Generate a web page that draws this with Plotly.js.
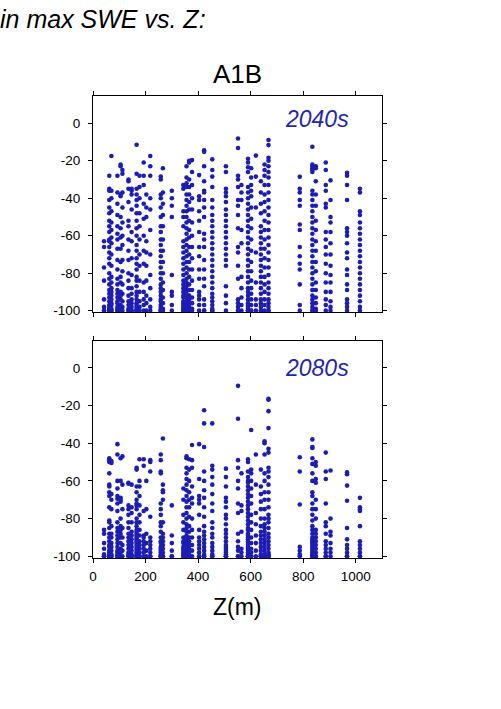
<!DOCTYPE html>
<html>
<head>
<meta charset="utf-8">
<script src="https://cdn.plot.ly/plotly-3.0.1.min.js"></script>
<style>html,body{margin:0;padding:0;background:#fff;}#chart{width:501px;height:709px;}</style>
</head>
<body>
<div id="chart"></div>
<script>
// Station elevations Z (m)
const stationZ = [42, 62, 70, 93, 105, 112, 135, 147, 166, 177, 193, 203, 218, 258, 266, 300, 344, 356, 366, 377, 404, 423, 454, 506, 552, 565, 590, 602, 620, 639, 653, 668, 787, 835, 848, 886, 904, 967, 1016];

// % change in max SWE, 2040s (one list per station)
const change2040 = [
  [-63,-66,-77,-84,-94,-100,-100,-98],
  [-28,-35,-36,-41,-45,-48,-52,-55,-58,-62,-63,-66,-69,-72,-75,-80,-83,-86,-89,-91,-93,-95,-97,-98,-99,-100,-100,-100],
  [-17.5,-36,-40,-47,-53,-57,-61,-64,-70,-76,-82,-85,-88,-90,-92,-94,-96,-97,-99,-100,-100],
  [-28,-37,-43,-49,-55,-59,-62,-67,-73,-78,-83,-86,-89,-91,-93,-95,-96,-98,-99,-100,-100],
  [-22,-23,-38,-39,-50,-56,-61,-67,-74,-82,-85,-90,-92,-94,-97,-99,-100,-100],
  [-25,-27,-37,-45,-53,-60,-65,-73,-79,-86,-91,-95,-98,-100],
  [-30,-31,-35,-42,-52,-55,-62,-68,-73,-80,-84,-88,-92,-95,-97,-99,-100,-100],
  [-35,-36,-38,-46,-58,-63,-72,-81,-88,-91,-94,-96,-98,-100,-100],
  [-11.5,-27,-35,-38,-41,-44,-48,-52,-56,-60,-65,-68,-72,-75,-78,-82,-84,-87,-90,-92,-94,-96,-97,-98,-99,-100,-100,-100],
  [-28,-34,-40,-48,-55,-62,-70,-76,-84,-90,-95,-98,-100],
  [-21,-28,-33,-43,-51,-60,-68,-75,-85,-90,-94,-97,-100],
  [-38,-45,-50,-63,-69,-76,-84,-92,-96,-100],
  [-17.5,-23,-28,-40,-46,-57,-70,-81,-88,-94,-98,-100],
  [-28.5,-30,-38,-40,-45,-50,-55,-58,-62,-65,-68,-71,-74,-77,-80,-83,-86,-88,-90,-92,-94,-95,-97,-98,-99,-100,-100,-100],
  [-24,-37,-43,-49,-55,-62,-68,-74,-80,-85,-89,-93,-96,-99,-100],
  [-36,-40,-44,-50,-81,-90,-92,-97,-100],
  [-33,-35,-47,-50,-55,-63,-66,-69,-72,-75,-78,-81,-84,-86,-88,-90,-92,-93,-95,-96,-97,-98,-99,-100,-100,-100],
  [-23,-29,-32,-34,-38,-41,-44,-47,-50,-53,-56,-59,-62,-65,-68,-71,-74,-77,-80,-83,-85,-87,-89,-91,-93,-95,-96,-98,-99,-100,-100,-100],
  [-20,-21,-30,-34,-38,-42,-46,-52,-57,-61,-66,-70,-74,-78,-82,-86,-89,-92,-94,-96,-98,-100,-100],
  [-19.7,-26,-33,-40,-46,-53,-60,-66,-72,-78,-84,-89,-93,-96,-99,-100],
  [-27.7,-39,-41,-47,-52,-58,-66,-71,-78,-83,-90,-92,-94,-97,-100],
  [-14.4,-15.3,-23,-31,-36,-37,-41,-45,-50,-59,-62,-66,-73,-78,-83,-87,-94,-97,-100,-100],
  [-19.3,-25,-28.5,-34,-41,-45,-49,-52,-55,-58,-61,-64,-67,-70,-73,-76,-79,-82,-85,-88,-91,-93,-95,-97,-99,-100,-100],
  [-23,-26,-35,-37,-39,-42,-46,-49,-52,-55,-58,-61,-64,-67,-70,-73,-76,-87,-92,-96,-100],
  [-8.2,-13.2,-28,-30,-34,-41,-44,-49,-56,-66,-69,-76,-83,-94,-96,-98,-100,-100],
  [-33,-37,-41,-57,-64,-82,-88,-93,-97,-100],
  [-19,-21,-23.5,-26,-34,-37,-40,-43,-46,-49,-52,-55,-58,-61,-64,-67,-70,-73,-76,-79,-82,-85,-88,-90,-92,-94,-96,-97,-98,-99,-100,-100,-100],
  [-24,-29,-33,-36,-39,-45,-51,-56,-62,-68,-74,-79,-84,-88,-91,-94,-97,-100,-100],
  [-17.3,-28.5,-45,-69,-85,-94,-97,-100],
  [-31,-37,-43,-48,-55,-58,-61,-64,-67,-70,-73,-76,-79,-82,-85,-88,-91,-94,-96,-98,-100,-100],
  [-22,-25,-28,-33,-38,-42,-47,-52,-57,-62,-67,-72,-77,-82,-86,-90,-94,-97,-100],
  [-9,-11.7,-18.5,-20,-23,-26,-29,-33,-37,-41,-45,-49,-53,-57,-61,-65,-69,-73,-77,-81,-85,-88,-91,-94,-96,-98,-100,-100],
  [-28.6,-35,-37,-41,-44,-54,-57,-66,-71,-75,-78,-86,-97,-100],
  [-12.6,-22,-23,-24,-25,-26,-36,-38,-41,-44,-47,-50,-53,-56,-59,-62,-65,-68,-71,-74,-77,-80,-83,-86,-89,-92,-94,-96,-98,-100,-100],
  [-23,-24,-31,-38,-44,-52,-57,-63,-68,-74,-79,-85,-89,-93,-96,-99,-100],
  [-21,-25,-33,-36,-43,-45,-58,-62,-66,-70,-75,-80,-85,-90,-94,-97,-100],
  [-30.5,-41,-50,-53,-58,-64,-70,-76,-81,-85,-90,-95,-98,-100],
  [-26.5,-28,-33,-41,-56,-58,-60,-64,-69,-72,-78,-81,-86,-89,-94,-96,-98,-100],
  [-35,-37,-47,-49,-53,-56,-59,-62,-65,-68,-71,-74,-77,-80,-83,-86,-89,-92,-95,-98,-100]
];

// % change in max SWE, 2080s (one list per station)
const change2080 = [
  [-86,-88,-93,-96,-99,-100,-100],
  [-48,-49,-50,-56,-62,-63,-66,-68,-74,-81,-82,-85,-88,-90,-92,-94,-95,-97,-98,-99,-100,-100,-100],
  [-49.5,-50.5,-67,-70,-75,-84,-88,-90,-93,-95,-97,-99,-100,-100],
  [-40.5,-46,-60,-64,-68,-69.5,-72,-76,-82,-85,-87,-89,-91,-93,-95,-97,-98,-99,-100,-100,-100],
  [-48,-60,-69,-70,-71,-80,-84,-86,-88,-90,-93,-96,-98,-100,-100],
  [-47,-62,-75,-85,-90,-94,-97,-100],
  [-61,-61.5,-73,-75,-78,-82,-85,-88,-90,-92,-94,-96,-98,-99,-100,-100],
  [-62,-74,-77,-82,-87,-89,-91,-93,-95,-97,-99,-100,-100],
  [-53,-54,-63,-66,-70,-72,-73,-75,-80,-82,-84,-86,-87,-88,-89,-90,-91,-92,-93,-94,-95,-96,-97,-98,-99,-100,-100,-100,-100],
  [-48.5,-60,-63,-68,-73,-78,-82,-86,-89,-92,-94,-96,-98,-100,-100],
  [-48.5,-52,-76,-89,-90,-92,-94,-96,-98,-100],
  [-60,-75,-88,-93,-97,-100],
  [-49,-50,-55,-79,-90,-92,-94,-96,-98,-100,-100],
  [-46,-49,-55,-56,-72,-75,-78,-82,-84,-87,-90,-92,-93,-95,-96,-97,-98,-99,-100,-100,-100],
  [-37.5,-62,-65,-66,-70,-82,-88,-90,-92,-94,-96,-98,-100,-100],
  [-73,-89,-93,-97,-100,-100],
  [-64,-70,-78,-82,-86,-90,-92,-93,-95,-96,-97,-98,-99,-100,-100,-100],
  [-47,-48,-53,-56,-59,-62,-65,-68,-71,-74,-77,-80,-83,-85,-87,-89,-91,-92,-93,-94,-95,-96,-97,-98,-99,-100,-100,-100,-100],
  [-48.5,-54,-60,-66,-70,-74,-79,-84,-87,-90,-92,-94,-96,-98,-99,-100,-100,-100],
  [-41,-49,-53,-63,-69,-72,-80,-86,-90,-94,-97,-100],
  [-40.5,-59,-68,-70,-72,-78,-86,-90,-92,-94,-96,-98,-100,-100],
  [-22.5,-29.5,-42,-55,-60,-65,-69,-74,-79,-84,-87,-89,-91,-93,-95,-97,-99,-100,-100],
  [-29.5,-52,-54,-58,-62,-67,-72,-76,-82,-85,-88,-90,-93,-95,-97,-99,-100,-100],
  [-53.5,-58,-63,-69,-71,-74,-78,-80,-83,-86,-88,-90,-92,-94,-95,-96,-97,-98,-99,-100,-100,-100],
  [-9.6,-27,-49,-53,-60,-64,-72,-77,-88,-92,-95,-97,-100,-100],
  [-56,-73,-76,-87,-96,-98,-100],
  [-48.5,-50,-55,-58,-60,-61,-63,-65,-67,-69,-71,-73,-75,-77,-79,-81,-83,-85,-86,-88,-89,-90,-91,-92,-93,-94,-95,-96,-97,-98,-99,-100,-100,-100,-100],
  [-33,-54,-56,-60,-64,-68,-72,-78,-82,-86,-90,-93,-96,-98,-100,-100],
  [-46,-62,-77,-83,-89,-93,-97,-100],
  [-54,-63,-67,-71,-75,-80,-84,-87,-89,-91,-93,-95,-97,-99,-100,-100,-100],
  [-39,-40,-46,-56,-60,-66,-70,-75,-80,-83,-85,-87,-89,-91,-93,-95,-97,-99,-100,-100,-100],
  [-16.5,-17,-23,-32,-43,-45,-53,-55,-58,-62,-66,-70,-74,-78,-80,-82,-85,-88,-90,-92,-94,-96,-98,-99,-100,-100,-100],
  [-47.5,-55,-72.5,-95,-97,-99,-100],
  [-38,-42,-42.5,-48,-51,-56,-60,-66,-68,-72,-75,-78,-81,-84,-86,-88,-90,-91,-92,-93,-94,-95,-96,-97,-98,-99,-100,-100,-100],
  [-50,-52,-59,-61,-70,-75,-80,-86,-88,-90,-92,-94,-96,-98,-100,-100],
  [-45,-55,-59,-72,-82,-84,-88,-92,-94,-96,-98,-100,-100],
  [-54.5,-80,-87,-89,-93,-96,-98,-100],
  [-55.5,-56.5,-62.5,-70.5,-85,-91,-94,-96,-98,-100,-100],
  [-69,-74,-75,-76,-84,-92,-94,-96,-98,-100,-100]
];

const xTicks = [0, 200, 400, 600, 800, 1000];
const yTicks = [0, -20, -40, -60, -80, -100];
const yTickText = ['0', '-20', '-40', '-60', '-80', '-100'];
const periodLabels = ["2040s", "2080s"];

function flatten(lists) {
  const xs = [], ys = [];
  lists.forEach((vals, i) => vals.forEach(v => { xs.push(stationZ[i]); ys.push(v); }));
  return {xs, ys};
}
const d40 = flatten(change2040);
const d80 = flatten(change2080);

const dotColor = '#1c1cb9';
const font = "Liberation Sans, Arial, Helvetica, sans-serif";

const traces = [
  {x: d40.xs, y: d40.ys, xaxis: 'x2', yaxis: 'y2', type: 'scatter', mode: 'markers',
   marker: {color: dotColor, size: 4.6}, cliponaxis: false, hoverinfo: 'none'},
  {x: d80.xs, y: d80.ys, xaxis: 'x', yaxis: 'y', type: 'scatter', mode: 'markers',
   marker: {color: dotColor, size: 4.6}, cliponaxis: false, hoverinfo: 'none'}
];

const axisCommon = {
  showline: true, linecolor: '#000', linewidth: 1, mirror: 'ticks',
  ticks: 'outside', ticklen: 4, tickcolor: '#000', tickwidth: 1,
  showgrid: false, zeroline: false,
  tickfont: {family: font, size: 13.5, color: '#000'}
};

const layout = {
  width: 501, height: 709,
  paper_bgcolor: '#fff', plot_bgcolor: '#fff',
  margin: {l: 93, r: 119, t: 96, b: 151},
  showlegend: false,
  xaxis: Object.assign({}, axisCommon, {domain: [0, 1], range: [0, 1100], tickvals: xTicks, anchor: 'y', ticklabelstandoff: 2}),
  yaxis: Object.assign({}, axisCommon, {domain: [0, 0.4697], range: [-100.9, 14.2], tickvals: yTicks, ticktext: yTickText, anchor: 'x', ticklabelstandoff: 5}),
  xaxis2: Object.assign({}, axisCommon, {domain: [0, 1], range: [0, 1100], tickvals: xTicks, showticklabels: false, anchor: 'y2'}),
  yaxis2: Object.assign({}, axisCommon, {domain: [0.5325, 1], range: [-100.7, 14.5], tickvals: yTicks, ticktext: yTickText, anchor: 'x2', ticklabelstandoff: 5}),
  annotations: [
    {text: 'in max SWE vs. Z:', xref: 'paper', yref: 'paper', x: -0.33, y: 1.166, xanchor: 'left', yanchor: 'middle',
     showarrow: false, font: {family: font, size: 25, color: '#000', style: 'italic'}},
    {text: 'A1B', xref: 'paper', yref: 'paper', x: 0.5, y: 1.047, xanchor: 'center', yanchor: 'middle',
     showarrow: false, font: {family: font, size: 26, color: '#000'}},
    {text: 'Z(m)', xref: 'paper', yref: 'paper', x: 0.5, y: -0.106, xanchor: 'center', yanchor: 'middle',
     showarrow: false, font: {family: font, size: 23, color: '#000'}},
    {text: periodLabels[0], xref: 'x2 domain', yref: 'y2 domain', x: 0.775, y: 0.895, xanchor: 'center', yanchor: 'middle',
     showarrow: false, font: {family: font, size: 23, color: '#2525b8', style: 'italic'}},
    {text: periodLabels[1], xref: 'x domain', yref: 'y domain', x: 0.775, y: 0.875, xanchor: 'center', yanchor: 'middle',
     showarrow: false, font: {family: font, size: 23, color: '#2525b8', style: 'italic'}}
  ]
};

Plotly.newPlot('chart', traces, layout, {displayModeBar: false, staticPlot: true});
</script>
</body>
</html>
